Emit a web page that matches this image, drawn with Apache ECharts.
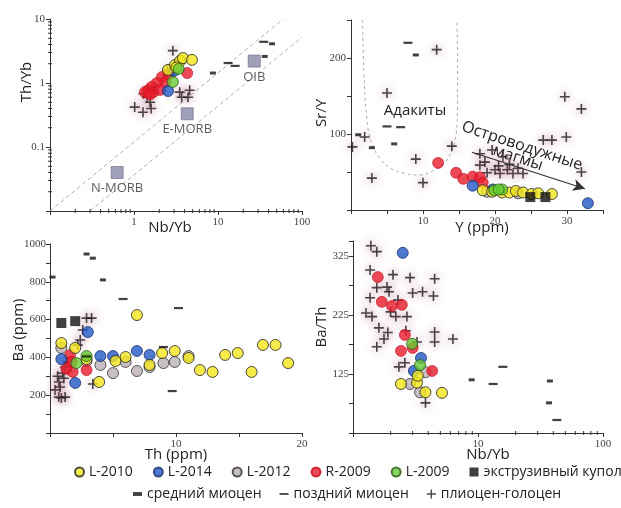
<!DOCTYPE html>
<html>
<head>
<meta charset="utf-8">
<script src="https://cdn.jsdelivr.net/npm/echarts@6/dist/echarts.min.js"></script>
<style>
  html, body { margin: 0; padding: 0; background: #fff; }
  #chart { width: 621px; height: 508px; }
</style>
</head>
<body>
<div id="chart"></div>
<script>
// ---- Nb/Yb vs Th/Yb ----
const p1_L2010 = [[2.54,1.6],[3.08,1.91],[3.53,2.21],[3.83,2.45],[4.9,2.3],[3.2,1.75]];
const p1_L2014 = [[2.54,0.75],[3.0,1.55]];
const p1_R2009 = [[4.3,1.43],[2.15,1.24],[2.35,1.04],[1.87,1.0],[1.63,0.87],[1.47,0.77],[1.7,0.72],[2.05,0.78],[1.35,0.72],[1.55,0.66],[2.6,1.35]];
const p1_L2009 = [[3.4,1.66],[2.9,1.04]];
const p1_plio = [[2.9,3.2],[1.47,0.81],[1.43,0.6],[1.02,0.42],[1.28,0.35],[1.6,0.4],[1.55,0.5],[3.5,0.72],[3.7,0.6],[4.6,0.77],[4.4,0.6],[2.5,1.6],[1.3,0.68]];
const p1_midMio = [[8.7,1.43],[36,2.6],[44,4.1]];
const p1_lateMio = [[13.2,2.05],[16,1.85],[35,4.4]];
const refNames = ['N-MORB','E-MORB','OIB'];
const refNbYb = [0.63, 4.3, 27];
const refThYb = [0.04, 0.33, 2.2];
const arrayUpper = [[0.1,0.01],[60,10]];
const arrayLower = [[0.3,0.01],[100,5.2]];

// ---- Y vs Sr/Y ----
const p2_plio = [[0.2,83],[1.9,96],[2.9,42],[5.0,154],[9.0,67],[10.0,36],[11.9,211],[14.0,84],[17.9,74],[17.9,59],[18.9,49],[20,53],[20.7,48],[21.7,53],[22.5,48],[23.2,55],[23.9,48],[19.6,79],[21.1,70],[26.7,92],[27.9,92],[29.7,149],[29.9,96],[32,133],[32,50],[18.6,63],[20.5,58],[22,60]];
const p2_midMio = [[9.0,204],[1.0,99],[2.9,82],[6.0,87]];
const p2_lateMio = [[7.9,220],[5.0,110],[6.9,109]];
const p2_R2009 = [[12.1,62],[14.6,49],[15.6,41],[16.9,44],[17.9,43],[18.3,36]];
const p2_L2014 = [[16.9,32],[32.9,9],[19.7,27]];
const p2_L2012 = [[18.9,24],[23.2,22]];
const p2_L2009 = [[19.9,26],[21,27],[20.5,27]];
const p2_L2010 = [[18.3,26],[19.6,24],[21,23],[22,23],[22.9,25],[23.9,23],[25.1,21],[26,22],[27.9,21]];
const p2_dome = [[24.9,17],[27,17]];
const adakiteField = [[1.6,250],[1.8,180],[2.2,120],[2.8,90],[4,68],[5.5,55],[7.5,48],[9.5,46],[11.5,52],[13,62],[14,78],[14.6,100],[14.8,140],[14.8,200],[14.7,250]];
const arcTrend = [[16.8,76],[32.5,28]];

// ---- Th vs Ba ----
const p3_plio = [[0.4,228],[0.7,190],[0.9,185],[1.2,190],[0.7,270],[1.0,317],[1.2,349],[1.4,376],[2.9,608],[3.3,608],[2.6,545],[2.4,492],[2.2,465],[3.4,259],[0.8,243],[1.1,290],[0.6,300]];
const p3_midMio = [[0.2,825],[2.9,947],[3.4,925],[4.2,810]];
const p3_lateMio = [[5.8,709],[10.2,661],[9.7,222],[9.0,455],[2.9,405]];
const p3_dome = [[0.9,582],[2.0,592]];
const p3_R2009 = [[1.6,413],[1.7,376],[1.8,323],[2.9,333],[1.3,340]];
const p3_L2012 = [[4.0,360],[5.0,317],[6.0,376],[6.9,328],[7.9,349],[9.0,370],[9.9,376],[11.0,407],[0.9,450],[2.9,380]];
const p3_L2014 = [[0.9,391],[3.0,534],[4.0,407],[5.0,407],[6.9,434],[7.9,413],[2.0,265]];
const p3_L2009 = [[2.9,407],[2.1,370]];
const p3_L2010 = [[0.9,476],[2.0,450],[2.9,391],[3.9,270],[5.2,381],[6.0,402],[6.9,624],[7.9,360],[8.9,423],[9.9,434],[11.0,397],[11.9,333],[12.9,323],[13.9,413],[14.9,423],[16.0,323],[16.9,466],[17.9,466],[18.9,370]];

// ---- Nb/Yb vs Ba/Th ----
const p4_plio = [[1.39,342],[1.55,332],[1.37,301],[1.55,271],[2.09,293],[2.86,288],[4.5,286],[1.87,272],[1.94,264],[1.37,254],[2.29,250],[3.0,262],[3.6,264],[4.4,257],[1.27,228],[1.42,222],[2.2,222],[2.7,222],[1.61,203],[1.9,195],[1.77,184],[1.55,171],[2.65,198],[3.25,179],[4.5,196],[4.5,179],[6.3,184],[2.33,137],[2.6,144],[3.8,76],[2.0,230]];
const p4_midMio = [[8.9,115],[37.6,113],[37,76]];
const p4_lateMio = [[13.2,108],[15.8,137],[42.7,47]];
const p4_R2009 = [[1.58,289],[1.7,247],[2.05,240],[2.46,242],[2.6,191],[2.42,164],[3.0,169],[4.3,130]];
const p4_L2014 = [[2.5,330],[3.5,152],[3.07,130]];
const p4_L2009 = [[2.97,176],[3.44,140]];
const p4_L2012 = [[3.8,128],[2.86,108],[3.44,94]];
const p4_L2010 = [[2.42,108],[3.25,110],[3.3,122],[3.8,94],[5.15,93]];

// ---- legend rows ----
const legendSamples = ['L-2010','L-2014','L-2012','R-2009','L-2009','экструзивный купол'];
const legendAges = ['средний миоцен','поздний миоцен','плиоцен-голоцен'];

// intermediate ticks of the logarithmic axes (2..9 within each decade)
const logMantissas = [2, 3, 4, 5, 6, 7, 8, 9];

const SANS = '"Open Sans", "Noto Sans", sans-serif';
const SERIF = '"Liberation Serif", "DejaVu Serif", serif';
const AX = '#333';

const groupStyle = {
  'L-2010': { symbol: 'circle', symbolSize: 11, itemStyle: { color: '#f4e61c', borderColor: '#222', borderWidth: 1 } },
  'L-2014': { symbol: 'circle', symbolSize: 11, itemStyle: { color: '#2059c4', borderColor: '#1a2f70', borderWidth: 1 } },
  'L-2012': { symbol: 'circle', symbolSize: 11, itemStyle: { color: '#bcb0b8', borderColor: '#333', borderWidth: 1 } },
  'R-2009': { symbol: 'circle', symbolSize: 11, itemStyle: { color: '#e81a2a', borderColor: '#c0101c', borderWidth: 0.8 } },
  'L-2009': { symbol: 'circle', symbolSize: 11, itemStyle: { color: '#66cc33', borderColor: '#2a5a18', borderWidth: 1 } },
  'экструзивный купол': { symbol: 'rect', symbolSize: 10, itemStyle: { color: '#111' } },
  'средний миоцен': { symbol: 'path://M0,0h7v3h-7z', symbolSize: [6, 3], itemStyle: { color: '#111' } },
  'поздний миоцен': { symbol: 'path://M0,0h10v2h-10z', symbolSize: [9, 2.2], itemStyle: { color: '#111' } },
  'плиоцен-голоцен': { symbol: 'path://M4.2,0h1.6v10h-1.6zM0,4.2h10v1.6h-10z', symbolSize: 10,
    itemStyle: { color: '#1e1a1c', shadowBlur: 9, shadowColor: 'rgba(180,105,135,1)' } }
};

function pts(name, idx, data, z) {
  const st = groupStyle[name];
  return Object.assign({
    type: 'scatter', name: name, xAxisIndex: idx, yAxisIndex: idx, data: data,
    z: z, animation: false, silent: true
  }, JSON.parse(JSON.stringify(st)));
}

function panelSeries(idx, d) {
  return [
    pts('плиоцен-голоцен', idx, d.plio, 2),
    pts('L-2012', idx, d.L2012 || [], 3),
    pts('R-2009', idx, d.R2009 || [], 3),
    pts('L-2014', idx, d.L2014 || [], 4),
    pts('L-2010', idx, d.L2010 || [], 4),
    pts('L-2009', idx, d.L2009 || [], 5),
    pts('экструзивный купол', idx, d.dome || [], 5),
    pts('средний миоцен', idx, d.mid || [], 6),
    pts('поздний миоцен', idx, d.late || [], 6)
  ];
}

// minor tick marks of a log axis, positioned through the axis scale
function logMinorTicks(idx, dim, lo, hi, other) {
  const vals = [];
  for (let e = Math.log10(lo); e < Math.log10(hi); e++) {
    logMantissas.forEach(m => vals.push(m * Math.pow(10, e)));
  }
  return {
    type: 'custom', xAxisIndex: idx, yAxisIndex: idx, silent: true, clip: false, z: 10,
    data: vals.map(v => dim === 'x' ? [v, other] : [other, v]),
    renderItem: (params, api) => {
      const p = api.coord([api.value(0), api.value(1)]);
      const shape = dim === 'x'
        ? { x1: p[0], y1: p[1] - 2, x2: p[0], y2: p[1] + 2 }
        : { x1: p[0] - 2, y1: p[1], x2: p[0] + 2, y2: p[1] };
      return { type: 'line', shape: shape, style: { stroke: AX, lineWidth: 1 } };
    }
  };
}

const logLabel = (skipBelow) => (v) => {
  const e = Math.round(Math.log10(v));
  if (e < skipBelow) return '';
  return e < 0 ? String(Math.pow(10, e).toFixed(-e)) : String(Math.pow(10, e));
};

function axisBase(extra) {
  return Object.assign({
    axisLine: { show: true, onZero: false, lineStyle: { color: AX, width: 1 } },
    axisTick: { show: true, length: 4, lineStyle: { color: AX } },
    splitLine: { show: false },
    axisLabel: { color: '#444', fontFamily: SERIF, fontSize: 11, margin: 6 }
  }, extra);
}

const chart = echarts.init(document.getElementById('chart'), null, { renderer: 'canvas' });

const series = [].concat(
  [
    { type: 'line', xAxisIndex: 0, yAxisIndex: 0, data: arrayUpper, symbol: 'none', silent: true, z: 1,
      lineStyle: { color: '#999', width: 0.8, type: [4, 3] } },
    { type: 'line', xAxisIndex: 0, yAxisIndex: 0, data: arrayLower, symbol: 'none', silent: true, z: 1,
      lineStyle: { color: '#999', width: 0.8, type: [4, 3] } },
    { type: 'scatter', xAxisIndex: 0, yAxisIndex: 0, symbol: 'rect', symbolSize: 12, silent: true, z: 2,
      data: refNames.map((n, i) => ({ name: n, value: [refNbYb[i], refThYb[i]] })),
      itemStyle: { color: '#8a88a8', borderColor: '#6a6880', borderWidth: 0.8 },
      label: { show: true, position: 'bottom', distance: 3, formatter: '{b}', color: '#333', fontFamily: SANS, fontSize: 13 } },
    logMinorTicks(0, 'x', 0.1, 100, 0.01),
    logMinorTicks(0, 'y', 0.01, 10, 0.1),
    logMinorTicks(3, 'x', 1, 100, 25)
  ],
  panelSeries(0, { plio: p1_plio, R2009: p1_R2009, L2014: p1_L2014, L2010: p1_L2010, L2009: p1_L2009, mid: p1_midMio, late: p1_lateMio }),
  [
    { type: 'line', xAxisIndex: 1, yAxisIndex: 1, data: adakiteField, symbol: 'none', smooth: 0.4, silent: true, z: 1,
      lineStyle: { color: '#999', width: 0.8, type: [3, 3] } },
    { type: 'line', xAxisIndex: 1, yAxisIndex: 1, data: [], silent: true, z: 7,
      markLine: {
        silent: true, symbol: ['none', 'arrow'], symbolSize: [9, 12], label: { show: false },
        lineStyle: { color: '#333', width: 1.2, type: 'solid' },
        data: [[{ coord: arcTrend[0] }, { coord: arcTrend[1] }]]
      } }
  ],
  panelSeries(1, { plio: p2_plio, R2009: p2_R2009, L2014: p2_L2014, L2012: p2_L2012, L2010: p2_L2010, L2009: p2_L2009, dome: p2_dome, mid: p2_midMio, late: p2_lateMio }),
  panelSeries(2, { plio: p3_plio, R2009: p3_R2009, L2014: p3_L2014, L2012: p3_L2012, L2010: p3_L2010, L2009: p3_L2009, dome: p3_dome, mid: p3_midMio, late: p3_lateMio }),
  panelSeries(3, { plio: p4_plio, R2009: p4_R2009, L2014: p4_L2014, L2012: p4_L2012, L2010: p4_L2010, L2009: p4_L2009, mid: p4_midMio, late: p4_lateMio })
);

function axisTitle(text, x, y, rot, size) {
  return { type: 'text', x: x, y: y, rotation: rot || 0, silent: true,
    style: { text: text, align: 'center', verticalAlign: 'middle', fill: '#222', font: (size || 15) + 'px ' + SANS } };
}

const option = {
  backgroundColor: '#fff',
  animation: false,
  grid: [
    { left: 50, top: 19, width: 252, height: 192 },
    { left: 351, top: 20, width: 252, height: 190 },
    { left: 50, top: 244, width: 252, height: 189 },
    { left: 353, top: 241, width: 250, height: 192 }
  ],
  xAxis: [
    axisBase({ type: 'log', gridIndex: 0, logBase: 10, min: 0.1, max: 100,
      axisLabel: { color: '#444', fontFamily: SERIF, fontSize: 11, margin: 6, formatter: logLabel(0) } }),
    axisBase({ type: 'value', gridIndex: 1, min: 0, max: 35, interval: 5,
      axisLabel: { color: '#444', fontFamily: SERIF, fontSize: 11, margin: 6,
        formatter: v => (v % 10 === 0 && v > 0) ? String(v) : '' } }),
    axisBase({ type: 'value', gridIndex: 2, min: 0, max: 20, interval: 5,
      axisLabel: { color: '#444', fontFamily: SERIF, fontSize: 11, margin: 6,
        formatter: v => (v % 10 === 0 && v > 0) ? String(v) : '' } }),
    axisBase({ type: 'log', gridIndex: 3, logBase: 10, min: 1, max: 100,
      axisLabel: { color: '#444', fontFamily: SERIF, fontSize: 11, margin: 6, formatter: logLabel(1) } })
  ],
  yAxis: [
    axisBase({ type: 'log', gridIndex: 0, logBase: 10, min: 0.01, max: 10,
      axisLabel: { color: '#444', fontFamily: SERIF, fontSize: 11, margin: 5, formatter: logLabel(-1) } }),
    axisBase({ type: 'value', gridIndex: 1, min: 0, max: 250, interval: 50,
      axisLabel: { color: '#444', fontFamily: SERIF, fontSize: 11, margin: 5,
        formatter: v => (v === 100 || v === 200) ? String(v) : '' } }),
    axisBase({ type: 'value', gridIndex: 2, min: 0, max: 1000, interval: 100,
      axisLabel: { color: '#444', fontFamily: SERIF, fontSize: 11, margin: 4,
        formatter: v => (v % 200 === 0 && v > 0) ? String(v) : '' } }),
    axisBase({ type: 'value', gridIndex: 3, min: 25, max: 350, interval: 50,
      axisLabel: { color: '#444', fontFamily: SERIF, fontSize: 11, margin: 4,
        formatter: v => (v === 125 || v === 225 || v === 325) ? String(v) : '' } })
  ],
  legend: [
    { data: legendSamples, left: 74, top: 465, width: 547, padding: 0, itemWidth: 9, itemHeight: 9, itemGap: 20, selectedMode: false,
      textStyle: { color: '#222', fontFamily: SANS, fontSize: 14 } },
    { data: legendAges, left: 133, top: 487, width: 480, padding: 0, itemWidth: 9, itemHeight: 9, itemGap: 18, selectedMode: false,
      textStyle: { color: '#222', fontFamily: SANS, fontSize: 14 } }
  ],
  graphic: [
    axisTitle('Th/Yb', 27, 82, Math.PI / 2),
    axisTitle('Nb/Yb', 170, 228),
    axisTitle('Sr/Y', 322, 113, Math.PI / 2),
    axisTitle('Y (ppm)', 482, 228),
    axisTitle('Ba (ppm)', 19, 330, Math.PI / 2),
    axisTitle('Th (ppm)', 176, 455),
    axisTitle('Ba/Th', 322, 327, Math.PI / 2),
    axisTitle('Nb/Yb', 488, 455),
    axisTitle('Адакиты', 415, 111, 0, 15),
    axisTitle('Островодужные', 522, 146, -0.32, 16),
    axisTitle('магмы', 518, 158, -0.32, 16)
  ],
  series: series
};

chart.setOption(option);
</script>
</body>
</html>
